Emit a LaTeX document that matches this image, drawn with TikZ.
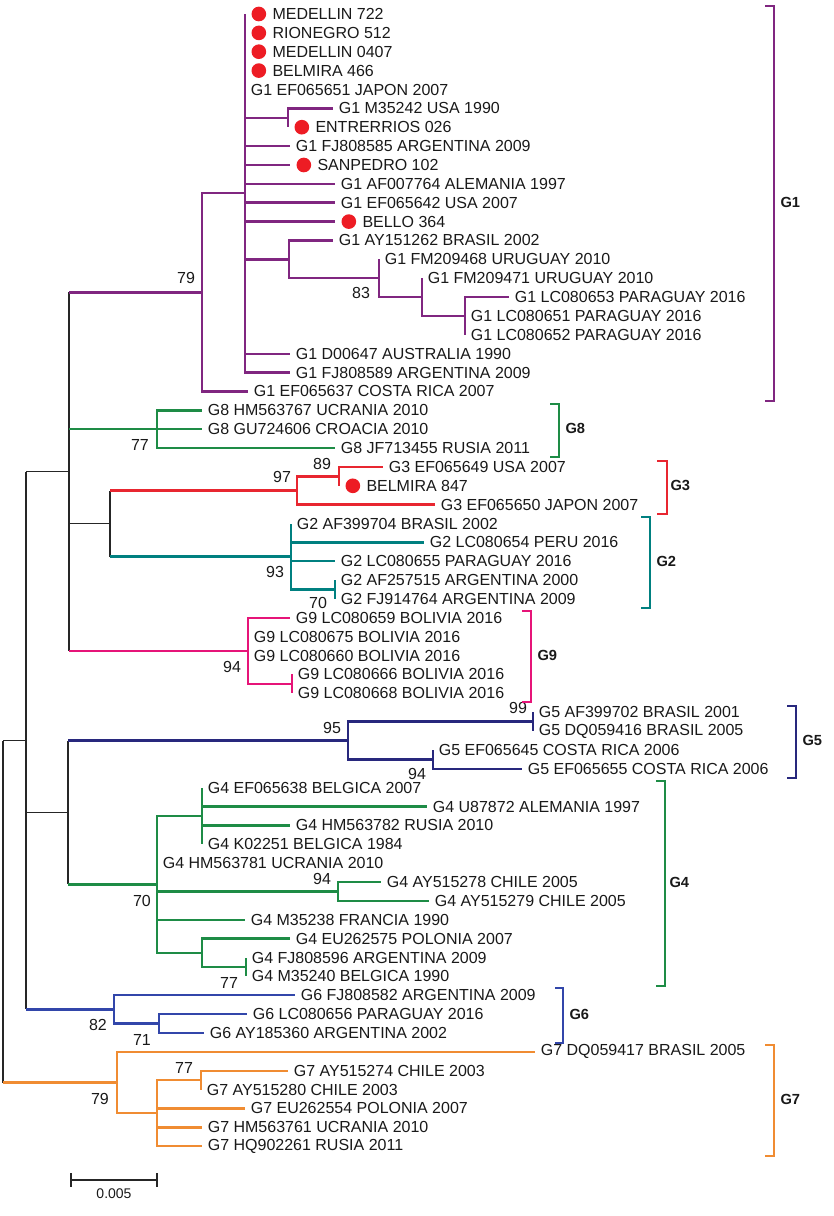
\documentclass[tikz,border=0pt]{standalone}
\usepackage{fontspec}
\setmainfont{Liberation Sans}
\usetikzlibrary{positioning}

\definecolor{gone}{RGB}{128,38,128}
\definecolor{gtwo}{RGB}{0,128,128}
\definecolor{gthree}{RGB}{232,38,48}
\definecolor{gfour}{RGB}{30,140,70}
\definecolor{gfive}{RGB}{40,40,125}
\definecolor{gsix}{RGB}{50,70,170}
\definecolor{gseven}{RGB}{240,140,50}
\definecolor{gnine}{RGB}{230,20,120}
\definecolor{dotred}{RGB}{237,28,36}

\tikzset{every picture/.style={line width=0.75pt}}
\tikzset{
  br/.style={line width=1.8pt},
  blk/.style={line width=1pt,color=black!85},
  lf/.style={anchor=west,inner xsep=4pt,inner ysep=0pt,font=\fontsize{12}{14}\selectfont,text=black!90},
  bs/.style={inner sep=0pt,font=\fontsize{12}{14}\selectfont,text=black!90},
  dot/.style={circle,fill=dotred,inner sep=0pt,minimum size=11pt},
  grp/.style={anchor=west,inner sep=0pt,font=\fontsize{11}{13}\selectfont\bfseries,text=black!90},
}

\begin{document}
\begin{tikzpicture}[x=0.75pt,y=0.75pt,yscale=-1,xscale=1]
\useasboundingbox (0,0) rectangle (834,1216);

% inner nodes
\coordinate (root) at (3,911.5);
\coordinate (n1) at (26,740.5);
\coordinate (n2) at (69,471.6);
\coordinate (n3) at (68,812.4);
\coordinate (n4) at (110,523.5);
\coordinate (g1) at (202,292.3);
\coordinate (g1b) at (245,193.3);
\coordinate (g1c) at (288,117.8);
\coordinate (g1d) at (289,259.3);
\coordinate (g1e) at (379,278.2);
\coordinate (g1f) at (422,297.0);
\coordinate (g1g) at (465,315.9);
\coordinate (g8) at (157,429.1);
\coordinate (g3) at (297,490.5);
\coordinate (g3b) at (339,476.3);
\coordinate (g2) at (291,556.5);
\coordinate (g2b) at (335,589.5);
\coordinate (g9) at (248,650.9);
\coordinate (g9b) at (292,683.9);
\coordinate (g5) at (348,740.5);
\coordinate (g5b) at (533,721.6);
\coordinate (g5c) at (433,759.4);
\coordinate (g4) at (157,884.4);
\coordinate (g4b) at (202,816.0);
\coordinate (g4c) at (338,891.5);
\coordinate (g4d) at (202,952.8);
\coordinate (g4e) at (246,967.0);
\coordinate (g6) at (114,1009.4);
\coordinate (g6b) at (159,1023.6);
\coordinate (g7) at (117,1082.5);
\coordinate (g7b) at (157,1113.2);
\coordinate (g7c) at (201,1080.2);

% leaf tips
\coordinate (l1) at (245,14.0);
\coordinate (l2) at (245,32.9);
\coordinate (l3) at (245,51.7);
\coordinate (l4) at (245,70.6);
\coordinate (l5) at (245,89.5);
\coordinate (l6) at (333,108.4);
\coordinate (l7) at (288,127.2);
\coordinate (l8) at (290,146.1);
\coordinate (l9) at (290,165.0);
\coordinate (l10) at (335,183.8);
\coordinate (l11) at (335,202.7);
\coordinate (l12) at (335,221.6);
\coordinate (l13) at (333,240.4);
\coordinate (l14) at (379,259.3);
\coordinate (l15) at (422,278.2);
\coordinate (l16) at (509,297.1);
\coordinate (l17) at (465,315.9);
\coordinate (l18) at (465,334.8);
\coordinate (l19) at (290,353.7);
\coordinate (l20) at (290,372.5);
\coordinate (l21) at (248,391.4);
\coordinate (l22) at (202,410.3);
\coordinate (l23) at (202,429.1);
\coordinate (l24) at (335,448.0);
\coordinate (l25) at (383,466.9);
\coordinate (l26) at (339,485.8);
\coordinate (l27) at (435,504.6);
\coordinate (l28) at (291,523.5);
\coordinate (l29) at (424,542.4);
\coordinate (l30) at (335,561.2);
\coordinate (l31) at (335,580.1);
\coordinate (l32) at (335,599.0);
\coordinate (l33) at (290,617.8);
\coordinate (l34) at (248,636.7);
\coordinate (l35) at (248,655.6);
\coordinate (l36) at (292,674.4);
\coordinate (l37) at (292,693.3);
\coordinate (l38) at (533,712.2);
\coordinate (l39) at (533,731.1);
\coordinate (l40) at (433,749.9);
\coordinate (l41) at (522,768.8);
\coordinate (l42) at (202,787.7);
\coordinate (l43) at (427,806.5);
\coordinate (l44) at (290,825.4);
\coordinate (l45) at (202,844.3);
\coordinate (l46) at (157,863.1);
\coordinate (l47) at (381,882.0);
\coordinate (l48) at (429,900.9);
\coordinate (l49) at (245,919.8);
\coordinate (l50) at (290,938.6);
\coordinate (l51) at (246,957.5);
\coordinate (l52) at (246,976.4);
\coordinate (l53) at (295,995.2);
\coordinate (l54) at (247,1014.1);
\coordinate (l55) at (204,1033.0);
\coordinate (l56) at (535,1051.8);
\coordinate (l57) at (288,1070.7);
\coordinate (l58) at (201,1089.6);
\coordinate (l59) at (245,1108.4);
\coordinate (l60) at (202,1127.3);
\coordinate (l61) at (202,1146.2);

% backbone
\draw[blk] (root |- n1) -- (root |- g7);
\draw[blk] (root |- n1) -- (n1);
\draw[blk] (n1 |- n2) -- (n1 |- g6);
\draw[blk] (n1 |- n2) -- (n2);
\draw[blk] (n1 |- n3) -- (n3);
\draw[blk] (n2 |- g1) -- (n2 |- g9);
\draw[blk] (n2 |- n4) -- (n4);
\draw[blk] (n4 |- g3) -- (n4 |- g2);
\draw[blk] (n3 |- g5) -- (n3 |- g4);

% G1
\draw[br,gone] (n2 |- g1) -- (g1);
\draw[br,gone] (g1) |- (g1b) (g1) |- (l21);
\draw[br,gone] (g1b) |- (l1) (g1b) |- (l5) (g1b) |- (g1c) (g1b) |- (l8) (g1b) |- (l9) (g1b) |- (l10) (g1b) |- (l11) (g1b) |- (l12) (g1b) |- (g1d) (g1b) |- (l19) (g1b) |- (l20);
\draw[br,gone] (g1c) |- (l6) (g1c) |- (l7);
\draw[br,gone] (g1d) |- (l13) (g1d) |- (g1e);
\draw[br,gone] (g1e) |- (l14) (g1e) |- (g1f);
\draw[br,gone] (g1f) |- (l15) (g1f) |- (g1g);
\draw[br,gone] (g1g) |- (l16) (g1g) |- (l18);

% G8
\draw[br,gfour] (n2 |- g8) -- (g8);
\draw[br,gfour] (g8) |- (l22) (g8) |- (l23) (g8) |- (l24);

% G3
\draw[br,gthree] (n4 |- g3) -- (g3);
\draw[br,gthree] (g3) |- (g3b) (g3) |- (l27);
\draw[br,gthree] (g3b) |- (l25) (g3b) |- (l26);

% G2
\draw[br,gtwo] (n4 |- g2) -- (g2);
\draw[br,gtwo] (g2) |- (l28) (g2) |- (l29) (g2) |- (l30) (g2) |- (g2b);
\draw[br,gtwo] (g2b) |- (l31) (g2b) |- (l32);

% G9
\draw[br,gnine] (n2 |- g9) -- (g9);
\draw[br,gnine] (g9) |- (l33) (g9) |- (l34) (g9) |- (l35) (g9) |- (g9b);
\draw[br,gnine] (g9b) |- (l36) (g9b) |- (l37);

% G5
\draw[br,gfive] (n3 |- g5) -- (g5);
\draw[br,gfive] (g5) |- (g5b) (g5) |- (g5c);
\draw[br,gfive] (g5b) |- (l38) (g5b) |- (l39);
\draw[br,gfive] (g5c) |- (l40) (g5c) |- (l41);

% G4
\draw[br,gfour] (n3 |- g4) -- (g4);
\draw[br,gfour] (g4) |- (g4b) (g4) |- (l46) (g4) |- (g4c) (g4) |- (l49) (g4) |- (g4d);
\draw[br,gfour] (g4b) |- (l42) (g4b) |- (l43) (g4b) |- (l44) (g4b) |- (l45);
\draw[br,gfour] (g4c) |- (l47) (g4c) |- (l48);
\draw[br,gfour] (g4d) |- (l50) (g4d) |- (g4e);
\draw[br,gfour] (g4e) |- (l51) (g4e) |- (l52);

% G6
\draw[br,gsix] (n1 |- g6) -- (g6);
\draw[br,gsix] (g6) |- (l53) (g6) |- (g6b);
\draw[br,gsix] (g6b) |- (l54) (g6b) |- (l55);

% G7
\draw[br,gseven] (root |- g7) -- (g7);
\draw[br,gseven] (g7) |- (l56) (g7) |- (g7b);
\draw[br,gseven] (g7b) |- (g7c) (g7b) |- (l59) (g7b) |- (l60) (g7b) |- (l61);
\draw[br,gseven] (g7c) |- (l57) (g7c) |- (l58);

% local samples
\node[dot,right=4.5pt of l1] (d1) {};
\node[dot,right=4.5pt of l2] (d2) {};
\node[dot,right=4.5pt of l3] (d3) {};
\node[dot,right=4.5pt of l4] (d4) {};
\node[dot,right=4.5pt of l7] (d7) {};
\node[dot,right=4.5pt of l9] (d9) {};
\node[dot,right=4.5pt of l12] (d12) {};
\node[dot,right=4.5pt of l26] (d26) {};
\node[lf,right=0pt of d1] (t1) {MEDELLIN 722};
\node[lf,right=0pt of d2] (t2) {RIONEGRO 512};
\node[lf,right=0pt of d3] (t3) {MEDELLIN 0407};
\node[lf,right=0pt of d4] (t4) {BELMIRA 466};
\node[lf,right=0pt of d7] (t7) {ENTRERRIOS 026};
\node[lf,right=0pt of d9] (t9) {SANPEDRO 102};
\node[lf,right=0pt of d12] (t12) {BELLO 364};
\node[lf,right=0pt of d26] (t26) {BELMIRA 847};

% reference sequences
\node[lf] (t5) at (l5) {G1 EF065651 JAPON 2007};
\node[lf] (t6) at (l6) {G1 M35242 USA 1990};
\node[lf] (t8) at (l8) {G1 FJ808585 ARGENTINA 2009};
\node[lf] (t10) at (l10) {G1 AF007764 ALEMANIA 1997};
\node[lf] (t11) at (l11) {G1 EF065642 USA 2007};
\node[lf] (t13) at (l13) {G1 AY151262 BRASIL 2002};
\node[lf] (t14) at (l14) {G1 FM209468 URUGUAY 2010};
\node[lf] (t15) at (l15) {G1 FM209471 URUGUAY 2010};
\node[lf] (t16) at (l16) {G1 LC080653 PARAGUAY 2016};
\node[lf] (t17) at (l17) {G1 LC080651 PARAGUAY 2016};
\node[lf] (t18) at (l18) {G1 LC080652 PARAGUAY 2016};
\node[lf] (t19) at (l19) {G1 D00647 AUSTRALIA 1990};
\node[lf] (t20) at (l20) {G1 FJ808589 ARGENTINA 2009};
\node[lf] (t21) at (l21) {G1 EF065637 COSTA RICA 2007};
\node[lf] (t22) at (l22) {G8 HM563767 UCRANIA 2010};
\node[lf] (t23) at (l23) {G8 GU724606 CROACIA 2010};
\node[lf] (t24) at (l24) {G8 JF713455 RUSIA 2011};
\node[lf] (t25) at (l25) {G3 EF065649 USA 2007};
\node[lf] (t27) at (l27) {G3 EF065650 JAPON 2007};
\node[lf] (t28) at (l28) {G2 AF399704 BRASIL 2002};
\node[lf] (t29) at (l29) {G2 LC080654 PERU 2016};
\node[lf] (t30) at (l30) {G2 LC080655 PARAGUAY 2016};
\node[lf] (t31) at (l31) {G2 AF257515 ARGENTINA 2000};
\node[lf] (t32) at (l32) {G2 FJ914764 ARGENTINA 2009};
\node[lf] (t33) at (l33) {G9 LC080659 BOLIVIA 2016};
\node[lf] (t34) at (l34) {G9 LC080675 BOLIVIA 2016};
\node[lf] (t35) at (l35) {G9 LC080660 BOLIVIA 2016};
\node[lf] (t36) at (l36) {G9 LC080666 BOLIVIA 2016};
\node[lf] (t37) at (l37) {G9 LC080668 BOLIVIA 2016};
\node[lf] (t38) at (l38) {G5 AF399702 BRASIL 2001};
\node[lf] (t39) at (l39) {G5 DQ059416 BRASIL 2005};
\node[lf] (t40) at (l40) {G5 EF065645 COSTA RICA 2006};
\node[lf] (t41) at (l41) {G5 EF065655 COSTA RICA 2006};
\node[lf] (t42) at (l42) {G4 EF065638 BELGICA 2007};
\node[lf] (t43) at (l43) {G4 U87872 ALEMANIA 1997};
\node[lf] (t44) at (l44) {G4 HM563782 RUSIA 2010};
\node[lf] (t45) at (l45) {G4 K02251 BELGICA 1984};
\node[lf] (t46) at (l46) {G4 HM563781 UCRANIA 2010};
\node[lf] (t47) at (l47) {G4 AY515278 CHILE 2005};
\node[lf] (t48) at (l48) {G4 AY515279 CHILE 2005};
\node[lf] (t49) at (l49) {G4 M35238 FRANCIA 1990};
\node[lf] (t50) at (l50) {G4 EU262575 POLONIA 2007};
\node[lf] (t51) at (l51) {G4 FJ808596 ARGENTINA 2009};
\node[lf] (t52) at (l52) {G4 M35240 BELGICA 1990};
\node[lf] (t53) at (l53) {G6 FJ808582 ARGENTINA 2009};
\node[lf] (t54) at (l54) {G6 LC080656 PARAGUAY 2016};
\node[lf] (t55) at (l55) {G6 AY185360 ARGENTINA 2002};
\node[lf] (t56) at (l56) {G7 DQ059417 BRASIL 2005};
\node[lf] (t57) at (l57) {G7 AY515274 CHILE 2003};
\node[lf] (t58) at (l58) {G7 AY515280 CHILE 2003};
\node[lf] (t59) at (l59) {G7 EU262554 POLONIA 2007};
\node[lf] (t60) at (l60) {G7 HM563761 UCRANIA 2010};
\node[lf] (t61) at (l61) {G7 HQ902261 RUSIA 2011};

% bootstrap values
\node[bs] (b1) at (186,278) {79};
\node[bs] (b2) at (361,293) {83};
\node[bs] (b3) at (140,445) {77};
\node[bs] (b4) at (322,464) {89};
\node[bs] (b5) at (282,477) {97};
\node[bs] (b6) at (275,572) {93};
\node[bs] (b7) at (318,603) {70};
\node[bs] (b8) at (232,667) {94};
\node[bs] (b9) at (332,728) {95};
\node[bs] (b10) at (518,708) {99};
\node[bs] (b11) at (417,774) {94};
\node[bs] (b12) at (322,879) {94};
\node[bs] (b13) at (142,901) {70};
\node[bs] (b14) at (229,983) {77};
\node[bs] (b15) at (98,1025) {82};
\node[bs] (b16) at (142,1040) {71};
\node[bs] (b17) at (184,1068) {77};
\node[bs] (b18) at (100,1099) {79};

% genotype brackets
\draw[br,gone] (765,6) -- (774,6) -- (774,401) -- (765,401);
\node[grp] (c1) at (780,202) {G1};
\draw[br,gfour] (550,404) -- (559,404) -- (559,457) -- (550,457);
\node[grp] (c8) at (565,428) {G8};
\draw[br,gthree] (657,461) -- (667,461) -- (667,514) -- (657,514);
\node[grp] (c3) at (670,485) {G3};
\draw[br,gtwo] (641,517) -- (650,517) -- (650,608) -- (641,608);
\node[grp] (c2) at (656,561) {G2};
\draw[br,gnine] (522,611) -- (531,611) -- (531,702) -- (522,702);
\node[grp] (c9) at (537,655) {G9};
\draw[br,gfive] (787,706) -- (796,706) -- (796,778) -- (787,778);
\node[grp] (c5) at (802,740) {G5};
\draw[br,gfour] (656,781) -- (665,781) -- (665,986) -- (656,986);
\node[grp] (c4) at (669,882) {G4};
\draw[br,gsix] (555,988) -- (563,988) -- (563,1043) -- (555,1043);
\node[grp] (c6) at (569,1014) {G6};
\draw[br,gseven] (765,1045) -- (774,1045) -- (774,1156) -- (765,1156);
\node[grp] (c7) at (780,1099) {G7};

% scale bar
\draw[blk] (71,1173) -- (71,1187) (71,1180) -- (157,1180) (157,1173) -- (157,1187);
\node[bs,font=\fontsize{10.5}{12}\selectfont] (sc) at (114,1194) {0.005};

\end{tikzpicture}
\end{document}
